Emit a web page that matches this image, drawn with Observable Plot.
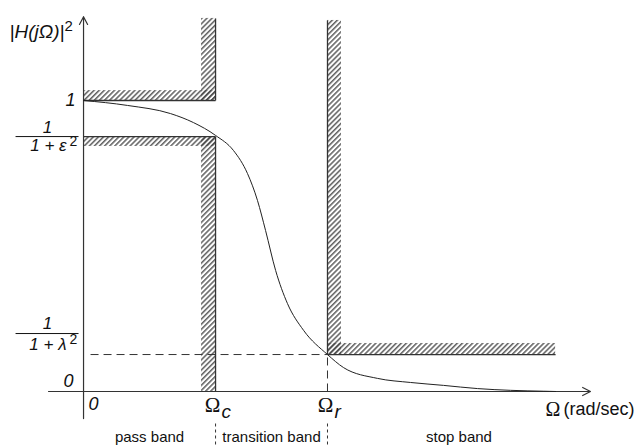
<!DOCTYPE html>
<html><head><meta charset="utf-8">
<script src="https://cdn.jsdelivr.net/npm/d3@7"></script>
<script src="https://cdn.jsdelivr.net/npm/@observablehq/plot@0.6"></script>
<style>body{margin:0;background:#fff} svg{display:block}</style>
</head><body><div id="chart"></div>
<script>
// ---- data ----
const omegaC = 1.0;      // passband edge Ωc
const omegaR = 1.848;    // stopband edge Ωr
const passTop = 1.0;     // level 1
const passMin = 0.876;   // 1/(1+ε²)
const stopMax = 0.127;   // 1/(1+λ²)
const curveOmega = [0, 0.333, 0.659, 0.833, 1.0, 1.136, 1.242, 1.318, 1.379, 1.455, 1.545, 1.667, 1.848, 1.97, 2.227, 2.477, 2.727, 2.985, 3.235, 3.485, 3.576];
const curveH     = [1, 0.983, 0.955, 0.924, 0.88, 0.828, 0.749, 0.656, 0.553, 0.416, 0.302, 0.210, 0.127, 0.082, 0.045, 0.031, 0.021, 0.010, 0.004, 0.001, 0];
const bandLabels = ["pass band", "transition band", "stop band"];
const yTickLabels = ["1", "0"];

// ---- layout constants ----
const xAxisStart = -0.265, xAxisEnd = 3.84, yAxisBottom = -0.093, yAxisTop = 1.288;
const stopEnd = 3.576, spanTop = 1.282, barW = 0.106, bandH = 0.034;
const fracX1 = -0.515, fracX2 = -0.038;
const sans = "'Liberation Sans', Arial, sans-serif";
const serif = "'Liberation Serif', 'Times New Roman', serif";
const ink = "#333";

const curve = curveOmega.map((w, i) => ({w, h: curveH[i]}));
const hatch = [
  {x1: 0, x2: omegaC, y1: passTop, y2: passTop + bandH},
  {x1: omegaC - barW, x2: omegaC, y1: passTop, y2: spanTop},
  {x1: 0, x2: omegaC, y1: passMin - bandH, y2: passMin},
  {x1: omegaC - barW, x2: omegaC, y1: 0, y2: passMin},
  {x1: omegaR, x2: omegaR + barW, y1: stopMax, y2: spanTop - 0.007},
  {x1: omegaR, x2: stopEnd, y1: stopMax, y2: stopMax + bandH + 0.004}
];
const edges = [
  {x1: 0, y1: passTop, x2: omegaC, y2: passTop},
  {x1: omegaC, y1: passTop, x2: omegaC, y2: spanTop},
  {x1: 0, y1: passMin, x2: omegaC, y2: passMin},
  {x1: omegaC, y1: 0, x2: omegaC, y2: passMin},
  {x1: omegaR, y1: stopMax, x2: omegaR, y2: spanTop - 0.007},
  {x1: omegaR, y1: stopMax, x2: stopEnd, y2: stopMax}
];
const axes = [
  {x1: 0, y1: yAxisBottom, x2: 0, y2: yAxisTop},
  {x1: xAxisStart, y1: 0, x2: xAxisEnd, y2: 0}
];
const bands = [
  {x: omegaC / 2, t: bandLabels[0]},
  {x: (omegaC + omegaR) / 2, t: bandLabels[1]},
  {x: (omegaR + xAxisEnd) / 2, t: bandLabels[2]}
];
const T = (x, y, t, o) => Plot.text([{x, y, t}], {x: "x", y: "y", text: "t", fill: "#111", fontFamily: sans, ...o});

const plot = Plot.plot({
  width: 640, height: 446,
  marginTop: 0, marginRight: 0, marginBottom: 0, marginLeft: 0,
  x: {domain: [-0.629, 4.219], axis: null},
  y: {domain: [-0.189, 1.3436], axis: null},
  style: {background: "#fff", overflow: "visible"},
  marks: [
    Plot.rect(hatch, {x1: "x1", x2: "x2", y1: "y1", y2: "y2", fill: "url(#hatch)"}),
    Plot.link(edges, {x1: "x1", y1: "y1", x2: "x2", y2: "y2", stroke: ink, strokeWidth: 1.3}),
    Plot.link([{y: stopMax}], {x1: 0.053, x2: omegaR, y1: "y", y2: "y", stroke: ink, strokeWidth: 1, strokeDasharray: "8,5"}),
    Plot.link([{x: omegaR}], {x1: "x", x2: "x", y1: 0, y2: stopMax, stroke: ink, strokeWidth: 1, strokeDasharray: "8,5"}),
    Plot.link([{x: omegaC}, {x: omegaR}], {x1: "x", x2: "x", y1: -0.11, y2: -0.189, stroke: ink, strokeWidth: 1, strokeDasharray: "3,3"}),
    Plot.arrow(axes, {x1: "x1", y1: "y1", x2: "x2", y2: "y2", stroke: ink, strokeWidth: 1.2, headLength: 11, headAngle: 55}),
    Plot.line(curve, {x: "w", y: "h", curve: "monotone-x", stroke: "#222", strokeWidth: 1}),
    // y axis title
    T(0, yAxisTop, "|H(jΩ)|", {textAnchor: "end", dx: -19, dy: 15, fontSize: 19, fontStyle: "italic"}),
    T(0, yAxisTop, "2", {textAnchor: "start", dx: -19, dy: 10, fontSize: 15}),
    // level labels
    T(0, passTop, yTickLabels[0], {textAnchor: "end", dx: -8, dy: 0, fontSize: 18, fontStyle: "italic"}),
    T(0, 0, yTickLabels[1], {textAnchor: "end", dx: -10, dy: -10, fontSize: 18, fontStyle: "italic"}),
    T(0, 0, "0", {textAnchor: "start", dx: 5, dy: 13, fontSize: 18, fontStyle: "italic"}),
    // 1/(1+ε²)
    T(0, passMin, "1", {dx: -36, dy: -9, fontSize: 17, fontStyle: "italic"}),
    Plot.link([{y: passMin}], {x1: fracX1, x2: fracX2, y1: "y", y2: "y", stroke: "#111", strokeWidth: 1}),
    T(0, passMin, "1 + ε", {textAnchor: "end", dx: -17, dy: 9, fontSize: 17, fontStyle: "italic"}),
    T(0, passMin, "2", {textAnchor: "start", dx: -14, dy: 5, fontSize: 14}),
    // 1/(1+λ²)
    T(0, stopMax, "1", {dx: -36, dy: -31, fontSize: 17, fontStyle: "italic"}),
    Plot.link([{y: stopMax}], {x1: fracX1, x2: fracX2, y1: "y", y2: "y", stroke: "#111", strokeWidth: 1, dy: -21}),
    T(0, stopMax, "1 + λ", {textAnchor: "end", dx: -17, dy: -10, fontSize: 17, fontStyle: "italic"}),
    T(0, stopMax, "2", {textAnchor: "start", dx: -14, dy: -15, fontSize: 14}),
    // Ωc, Ωr
    T(omegaC, 0, "Ω", {dx: -3, dy: 14, fontSize: 21, fontFamily: serif}),
    T(omegaC, 0, "c", {textAnchor: "start", dx: 6, dy: 20, fontSize: 19, fontStyle: "italic"}),
    T(omegaR, 0, "Ω", {dx: -2, dy: 14, fontSize: 21, fontFamily: serif}),
    T(omegaR, 0, "r", {textAnchor: "start", dx: 7, dy: 20, fontSize: 19, fontStyle: "italic"}),
    T(xAxisEnd, 0, "Ω", {textAnchor: "start", dx: -45, dy: 18, fontSize: 20, fontFamily: serif}),
    T(xAxisEnd, 0, "(rad/sec)", {textAnchor: "start", dx: -27, dy: 18, fontSize: 18}),
    // band labels
    Plot.text(bands, {x: "x", y: () => 0, text: "t", dy: 46, fontSize: 15, fontFamily: sans, fill: "#111"})
  ]
});

const ns = "http://www.w3.org/2000/svg";
const defs = document.createElementNS(ns, "defs");
defs.innerHTML = `<pattern id="hatch" patternUnits="userSpaceOnUse" width="3.6" height="3.6" patternTransform="rotate(45)"><line x1="0.8" y1="0" x2="0.8" y2="3.6" stroke="#444" stroke-width="1.3"/></pattern>`;
plot.insertBefore(defs, plot.firstChild);
document.getElementById("chart").appendChild(plot);
</script>
</body></html>
